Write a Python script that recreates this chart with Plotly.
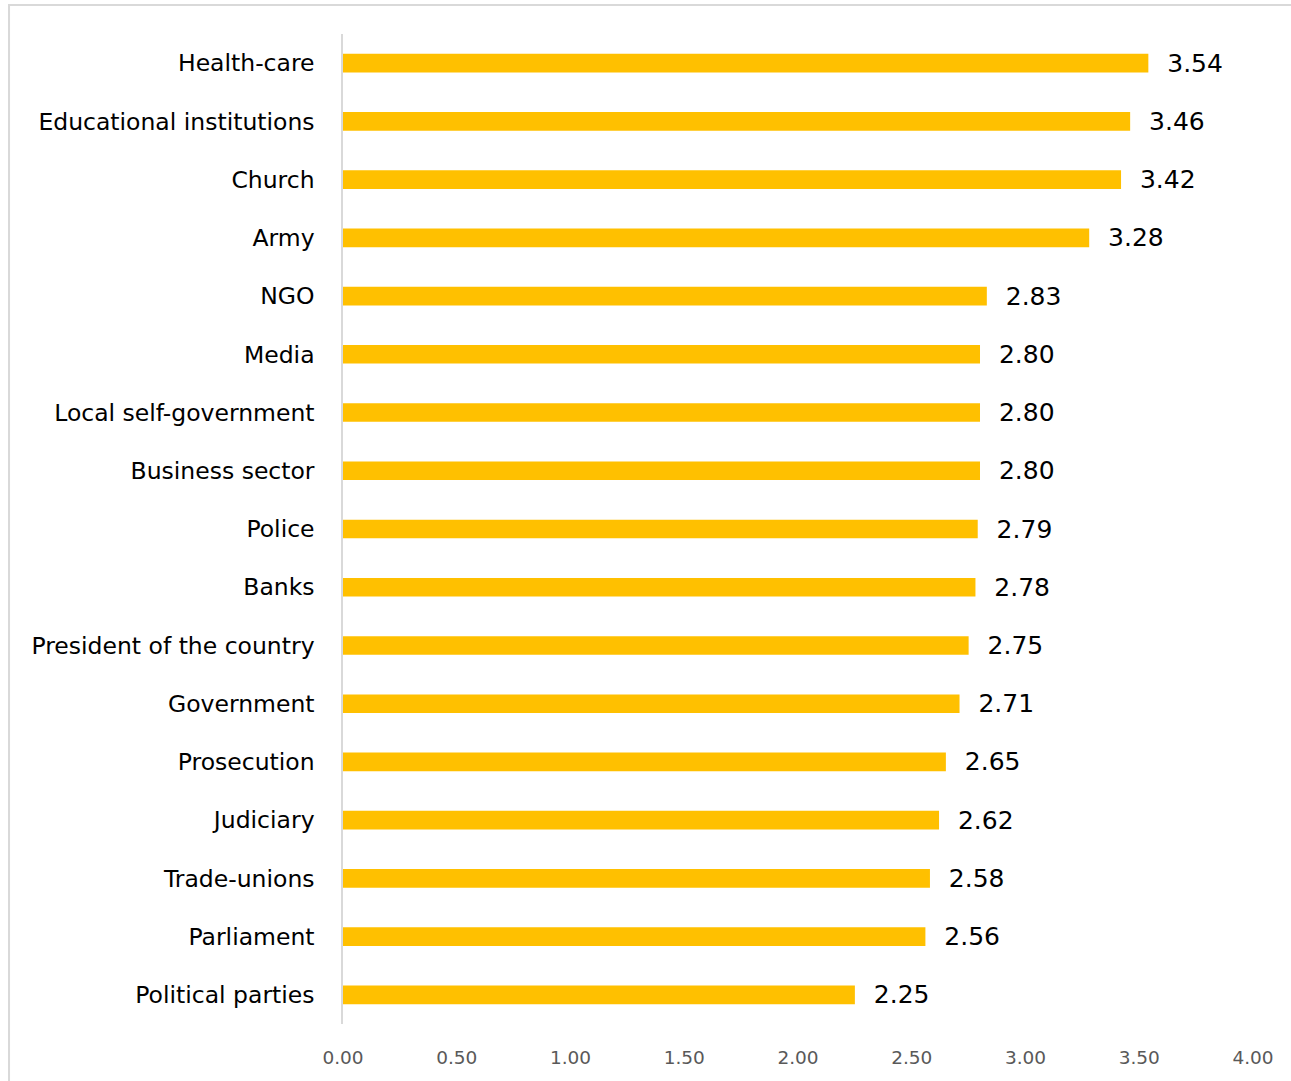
import plotly.graph_objects as go

# Institutions (top to bottom) and their mean trust scores
institutions = [
    "Health-care", "Educational institutions", "Church", "Army", "NGO", "Media",
    "Local self-government", "Business sector", "Police", "Banks",
    "President of the country", "Government", "Prosecution", "Judiciary",
    "Trade-unions", "Parliament", "Political parties",
]
scores = [3.54, 3.46, 3.42, 3.28, 2.83, 2.80, 2.80, 2.80, 2.79, 2.78,
          2.75, 2.71, 2.65, 2.62, 2.58, 2.56, 2.25]
x_ticks = [0, 0.5, 1.0, 1.5, 2.0, 2.5, 3.0, 3.5, 4.0]

FONT = "DejaVu Sans, Calibri, sans-serif"

fig = go.Figure(go.Bar(
    x=scores,
    y=institutions,
    orientation="h",
    width=0.32,
    marker=dict(color="#FFC000", line=dict(width=0)),
    text=scores,
    texttemplate="  %{x:.2f}",
    textposition="outside",
    constraintext="none",
    textfont=dict(family=FONT, size=25, color="#000000"),
    cliponaxis=False,
))

fig.update_layout(
    width=1291,
    height=1081,
    margin=dict(l=343, r=38, t=34, b=57),
    paper_bgcolor="white",
    plot_bgcolor="white",
    showlegend=False,
    xaxis=dict(
        range=[0, 4],
        tickvals=x_ticks,
        tickformat=".2f",
        showgrid=False,
        zeroline=False,
        showline=False,
        ticks="",
        ticklabelstandoff=20,
        tickfont=dict(family=FONT, size=18.5, color="#595959"),
    ),
    yaxis=dict(
        categoryorder="array",
        categoryarray=institutions,
        autorange="reversed",
        showgrid=False,
        zeroline=False,
        showline=True,
        linecolor="#D9D9D9",
        linewidth=1.5,
        ticks="",
        ticklabelstandoff=22,
        tickfont=dict(family=FONT, size=23.5, color="#000000"),
    ),
    shapes=[dict(
        type="rect", xref="paper", yref="paper",
        x0=-0.367, x1=1.2, y0=-0.2, y1=1.0293,
        line=dict(color="#D9D9D9", width=2), fillcolor="rgba(0,0,0,0)",
        layer="below",
    )],
)

fig.write_html("out.html")
